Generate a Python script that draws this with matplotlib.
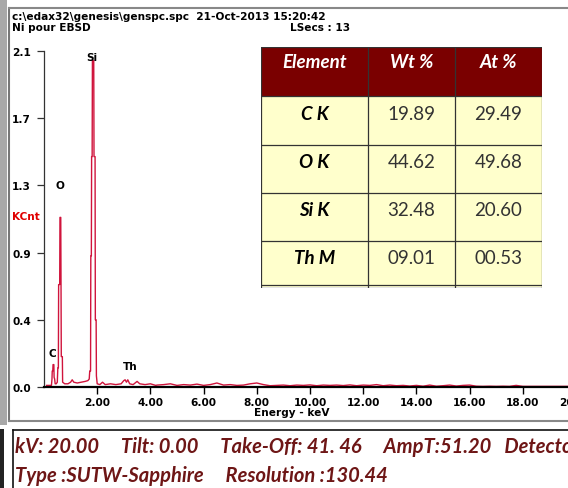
import numpy as np
import matplotlib.pyplot as plt
from matplotlib.patches import Rectangle
from matplotlib.lines import Line2D

# EDS spectrum (keV, KCnt)
energy_kev = [0.10, 0.20, 0.28, 0.30, 0.31, 0.33, 0.34, 0.37, 0.38, 0.40, 0.42, 0.46,
              0.50, 0.52, 0.54, 0.55, 0.59, 0.60, 0.63, 0.64, 0.65, 0.69, 0.70, 0.78,
              0.90, 1.00, 1.06, 1.12, 1.25, 1.40, 1.55, 1.65, 1.70, 1.72, 1.75, 1.76,
              1.78, 1.79, 1.81, 1.82, 1.87, 1.88, 1.92, 1.93, 1.96, 1.97, 2.00, 2.10,
              2.20, 2.30, 2.50, 2.70, 2.90, 3.00, 3.05, 3.10, 3.15, 3.22, 3.35, 3.50,
              3.60, 3.80, 4.00, 4.20, 4.25, 4.50, 4.75, 5.00, 5.25, 5.50, 5.75, 6.00,
              6.25, 6.50, 6.75, 7.00, 7.25, 7.50, 7.75, 8.00, 8.25, 8.50, 8.75, 9.00,
              9.25, 9.50, 9.75, 10.00, 10.25, 10.50, 10.75, 11.00, 11.25, 11.50, 11.75,
              12.00, 12.25, 12.50, 12.75, 13.00, 13.25, 13.50, 13.75, 14.00, 14.25,
              14.50, 14.75, 15.00, 15.25, 15.50, 15.75, 16.00, 16.25, 16.50, 16.75,
              17.00, 17.25, 17.50, 17.75, 18.00, 18.50, 19.00, 19.50, 20.00]
kcnt = [0.010, 0.010, 0.010, 0.050, 0.100, 0.100, 0.140, 0.140, 0.060, 0.050, 0.020, 0.020,
        0.030, 0.120, 0.120, 0.640, 0.640, 1.060, 1.060, 0.640, 0.190, 0.190, 0.030, 0.020,
        0.020, 0.030, 0.045, 0.030, 0.025, 0.030, 0.035, 0.040, 0.050, 0.100, 0.100, 0.820,
        0.820, 1.440, 1.440, 2.040, 2.040, 1.440, 1.440, 0.420, 0.420, 0.070, 0.020, 0.015,
        0.030, 0.015, 0.020, 0.015, 0.020, 0.040, 0.045, 0.030, 0.045, 0.020, 0.015, 0.035,
        0.020, 0.015, 0.020, 0.010, 0.012, 0.015, 0.020, 0.010, 0.015, 0.012, 0.018, 0.010,
        0.015, 0.025, 0.012, 0.015, 0.010, 0.012, 0.020, 0.025, 0.015, 0.008, 0.010, 0.012,
        0.008, 0.012, 0.010, 0.013, 0.008, 0.012, 0.010, 0.012, 0.009, 0.013, 0.008,
        0.012, 0.010, 0.015, 0.008, 0.012, 0.008, 0.010, 0.006, 0.010, 0.005,
        0.012, 0.005, 0.008, 0.012, 0.006, 0.010, 0.012, 0.005, 0.004, 0.005,
        0.004, 0.005, 0.004, 0.010, 0.004, 0.004, 0.004, 0.004, 0.004]

peak_names = ['C', 'O', 'Si', 'Th']
peak_label_x = [0.30, 0.60, 1.80, 3.23]
peak_label_y = [0.21, 1.26, 2.06, 0.13]

ytick_values = [0.0, 0.42, 0.84, 1.26, 1.68, 2.1]
ytick_labels = ['0.0', '0.4', '0.9', '1.3', '1.7', '2.1']
xtick_values = [2, 4, 6, 8, 10, 12, 14, 16, 18, 20]
xtick_labels = ['2.00', '4.00', '6.00', '8.00', '10.00', '12.00', '14.00', '16.00', '18.00', '20.00']

elements = ['C K', 'O K', 'Si K', 'Th M']
wt_pct = ['19.89', '44.62', '32.48', '09.01']
at_pct = ['29.49', '49.68', '20.60', '00.53']
table_header = ['Element', 'Wt %', 'At %']

header_line1 = 'c:\\edax32\\genesis\\genspc.spc  21-Oct-2013 15:20:42'
header_line2 = 'Ni pour EBSD'
lsecs = 'LSecs : 13'
info_line1 = 'kV: 20.00     Tilt: 0.00     Take-Off: 41. 46     AmpT:51.20   Detector'
info_line2 = 'Type :SUTW-Sapphire     Resolution :130.44'

W, H = 568, 489
RED = '#d0143c'
MAROON = '#7a0000'
TEXT_RED = '#6e1616'


def fx(px):
    return px / W


def fy(py):
    return 1 - py / H


fig = plt.figure(figsize=(W / 100, H / 100), dpi=100)
fig.patch.set_facecolor('white')

# window frame
fig.add_artist(Rectangle((0, fy(426)), fx(7), fy(0) - fy(426), transform=fig.transFigure,
                         color='#a8a8a8', lw=0))
fig.add_artist(Rectangle((0, 0), fx(4), fy(430), transform=fig.transFigure,
                         color='#222222', lw=0))
fig.add_artist(Line2D([fx(9), fx(9)], [fy(9), fy(422)], color='#777777', lw=1.5))
fig.add_artist(Line2D([fx(9), 1], [fy(9), fy(9)], color='#888888', lw=1.5))
fig.add_artist(Line2D([fx(9), 1], [fy(422), fy(422)], color='#888888', lw=1.5))
fig.add_artist(Line2D([fx(13), fx(13)], [fy(431), 0], color='#111111', lw=1.2))
fig.add_artist(Line2D([fx(13), 1], [fy(431), fy(431)], color='#111111', lw=1.2))

fnt = dict(family='DejaVu Sans', weight='bold', size=7.6)
fig.text(fx(12), fy(17), header_line1, ha='left', va='center', **fnt)
fig.text(fx(12), fy(28), header_line2, ha='left', va='center', **fnt)
fig.text(fx(290), fy(28), lsecs, ha='left', va='center', **fnt)
fig.text(fx(12), fy(217), 'KCnt', ha='left', va='center', color='#e00000',
         family='DejaVu Sans', weight='bold', size=7.6)

# spectrum axes (0 keV at x=44 px, 20 keV at x=576 px, beyond the right edge)
ax = fig.add_axes([fx(44), fy(388), fx(576) - fx(44), fy(52) - fy(388)])
ax.set_xlim(0, 20)
ax.set_ylim(0, 2.1)
ax.patch.set_alpha(0)
for s in ['top', 'right']:
    ax.spines[s].set_visible(False)
ax.spines['bottom'].set_linewidth(1.6)
ax.spines['left'].set_linewidth(0.9)
ax.spines['left'].set_color('#333333')

ax.plot(energy_kev, kcnt, color=RED, lw=1.0, clip_on=False)

for name, x, y in zip(peak_names, peak_label_x, peak_label_y):
    ax.text(x, y, name, ha='center', va='center', **fnt)

ax.set_yticks(ytick_values)
ax.set_yticklabels(ytick_labels)
ax.set_xticks(xtick_values)
ax.set_xticklabels(xtick_labels)
ax.tick_params(axis='y', length=5, width=0.9, color='#333333', pad=18)
ax.tick_params(axis='x', length=5, width=1.0, pad=2)
for lbl in ax.get_yticklabels():
    lbl.set_horizontalalignment('left')
    lbl.set_fontproperties(fnt)
for lbl in ax.get_xticklabels():
    lbl.set_fontproperties(fnt)
fig.text(fx(292), fy(413), 'Energy - keV', ha='center', va='center', **fnt)

# composition table
col_edges = [0, 107, 194, 281]
row_edges = [0, 49, 98, 146, 194, 240]
tax = fig.add_axes([fx(261), fy(289), fx(542) - fx(261), fy(48) - fy(289)])
tax.set_xlim(0, 281)
tax.set_ylim(241, 0)
tax.axis('off')
tax.add_patch(Rectangle((0, 0), 281, row_edges[1], color=MAROON, lw=0))
tax.add_patch(Rectangle((0, row_edges[1]), 281, row_edges[-1] - row_edges[1],
                        color='#ffffcc', lw=0))
for xe in col_edges:
    tax.plot([xe, xe], [0, row_edges[-1]], color='#333333', lw=0.9)
for ye in row_edges[:-1]:
    tax.plot([0, 281], [ye, ye], color='#333333', lw=0.9)
tax.plot([0, 281], [row_edges[-1] - 2, row_edges[-1] - 2], color='#333333', lw=0.9)
tax.plot([0, 281], [row_edges[-1] + 1, row_edges[-1] + 1], color='#333333', lw=0.9)

cell_fnt = 'Lato'
for j, head in enumerate(table_header):
    xc = (col_edges[j] + col_edges[j + 1]) / 2
    tax.text(xc, 15, head, ha='center', va='center', color='white',
             family=cell_fnt, weight='bold', style='italic', size=13.5)
for i in range(len(elements)):
    yc = row_edges[i + 1] + 17
    cols = [elements[i], wt_pct[i], at_pct[i]]
    for j, val in enumerate(cols):
        xc = (col_edges[j] + col_edges[j + 1]) / 2
        if j == 0:
            tax.text(xc, yc, val, ha='center', va='center', color='black',
                     family=cell_fnt, weight='bold', style='italic', size=13.5)
        else:
            tax.text(xc, yc, val, ha='center', va='center', color='#333333',
                     family=cell_fnt, size=13.5)

# acquisition info panel
fig.text(fx(15), fy(447), info_line1, ha='left', va='center', color=TEXT_RED,
         family='Lato', weight='bold', style='italic', size=14.5)
fig.text(fx(15), fy(476), info_line2, ha='left', va='center', color=TEXT_RED,
         family='Lato', weight='bold', style='italic', size=14.5)

fig.savefig('out.png', dpi=100)
